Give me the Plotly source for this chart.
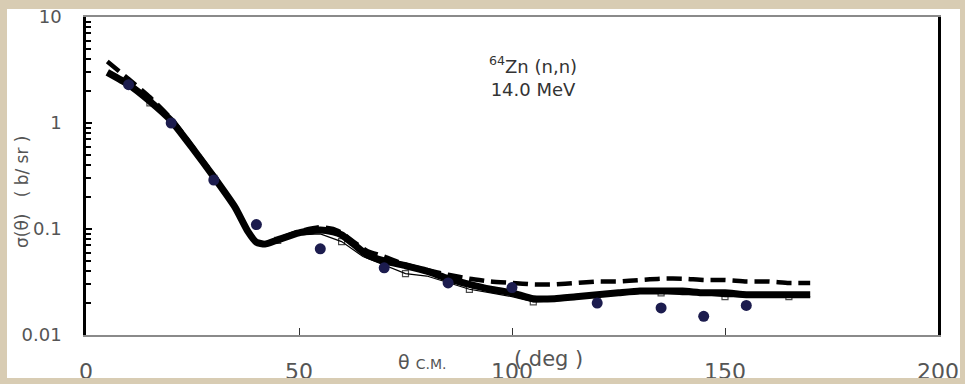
import plotly.graph_objects as go

# Experimental data (theta C.M. in deg, cross section in b/sr)
exp_theta = [10, 20, 30, 40, 55, 70, 85, 100, 120, 135, 145, 155]
exp_sigma = [2.3, 1.0, 0.29, 0.11, 0.065, 0.043, 0.031, 0.028, 0.020, 0.018, 0.015, 0.019]

# Thick solid calculation
solid_theta = [5, 10, 15, 20, 25, 30, 35, 38, 40, 42, 45, 50, 55, 58, 60, 63, 66, 70, 75, 80,
               85, 90, 95, 100, 105, 110, 115, 120, 125, 130, 135, 140, 145, 150, 155, 160, 165, 170]
solid_sigma = [3.0, 2.3, 1.6, 1.05, 0.58, 0.31, 0.16, 0.095, 0.075, 0.072, 0.079, 0.092, 0.098, 0.094,
               0.088, 0.071, 0.057, 0.050, 0.045, 0.040, 0.034, 0.030, 0.027, 0.025, 0.022, 0.022,
               0.023, 0.024, 0.025, 0.026, 0.026, 0.026, 0.025, 0.025, 0.024, 0.024, 0.024, 0.024]

# Dashed calculation
dash_theta = [5, 10, 15, 20, 25, 30, 35, 38, 40, 42, 45, 50, 55, 58, 60, 63, 66, 70, 75, 80,
              85, 90, 95, 100, 105, 110, 115, 120, 125, 130, 135, 140, 145, 150, 155, 160, 165, 170]
dash_sigma = [3.8, 2.6, 1.75, 1.1, 0.6, 0.32, 0.16, 0.095, 0.076, 0.073, 0.080, 0.095, 0.104, 0.100,
              0.092, 0.075, 0.062, 0.055, 0.046, 0.041, 0.037, 0.034, 0.032, 0.031, 0.030, 0.030,
              0.031, 0.032, 0.032, 0.033, 0.034, 0.034, 0.033, 0.033, 0.032, 0.032, 0.031, 0.031]

# Thin line with open squares (squares every 15 deg)
sq_theta = [5, 10, 15, 20, 25, 30, 35, 40, 45, 50, 55, 60, 65, 70, 75, 80, 85, 90, 95, 100,
            105, 110, 115, 120, 125, 130, 135, 140, 145, 150, 155, 160, 165, 170]
sq_sigma = [2.9, 2.2, 1.55, 1.0, 0.56, 0.30, 0.155, 0.074, 0.078, 0.088, 0.090, 0.076, 0.055,
            0.046, 0.038, 0.036, 0.031, 0.027, 0.025, 0.023, 0.0205, 0.021, 0.022, 0.023, 0.024,
            0.025, 0.025, 0.024, 0.024, 0.023, 0.023, 0.023, 0.023, 0.023]

y_tickvals = [0.01, 0.1, 1, 10]
y_ticktext = ["0.01", "0.1", "1", "10"]
y_minor = [m * d for d in (0.01, 0.1, 1) for m in range(2, 10)]
x_tickvals = [0, 50, 100, 150, 200]
x_ticktext = ["0", "50", "100", "150", "200"]

# plot area in pixels: x 86..938, y 17..335
L, R, T, B = 86, 938, 17, 335
W, H = 965, 384
def px(x):
    return (x - L) / (R - L)
def py(y):
    return 1 - (y - T) / (B - T)

FONT = "DejaVu Sans"
BEIGE = "#d8ccb3"

sq_sizes = [6 if t % 15 == 0 else 0 for t in sq_theta]

fig = go.Figure()
fig.add_trace(go.Scatter(x=sq_theta, y=sq_sigma, mode="lines+markers",
                         line=dict(color="black", width=1.2),
                         marker=dict(symbol="square-open", size=sq_sizes, color="black",
                                     line=dict(width=1.2)),
                         showlegend=False))
fig.add_trace(go.Scatter(x=dash_theta, y=dash_sigma, mode="lines",
                         line=dict(color="black", width=4.5, dash="15px,7px", shape="spline", smoothing=0.5),
                         showlegend=False))
fig.add_trace(go.Scatter(x=solid_theta, y=solid_sigma, mode="lines",
                         line=dict(color="black", width=7, shape="spline", smoothing=0.5),
                         showlegend=False))
fig.add_trace(go.Scatter(x=exp_theta, y=exp_sigma, mode="markers",
                         marker=dict(symbol="circle", size=11, color="#1c1c4e"),
                         showlegend=False))

fig.update_layout(
    width=W, height=H,
    margin=dict(l=L, r=W - R, t=T, b=H - B, autoexpand=False),
    paper_bgcolor=BEIGE,
    plot_bgcolor="white",
    font=dict(family=FONT, color="#555555"),
    xaxis=dict(range=[0, 200], tickmode="array", tickvals=x_tickvals, ticktext=x_ticktext,
               automargin=False,
               showgrid=False, zeroline=False, showline=True, linecolor="#8a8a8a",
               linewidth=2, mirror=True, ticks="inside", ticklen=7, tickcolor="#333333",
               tickwidth=1, tickfont=dict(size=22, color="#555555", family=FONT),
               ticklabelstandoff=16),
    yaxis=dict(type="log", range=[-2, 1], tickmode="array", tickvals=y_tickvals, ticktext=y_ticktext,
               automargin=False,
               showgrid=False, zeroline=False, showline=True, linecolor="black",
               linewidth=2.5, mirror=True, ticks="inside", ticklen=6, tickcolor="black",
               tickwidth=2, tickfont=dict(size=18, color="#555555", family=FONT),
               ticklabelstandoff=18,
               minor=dict(tickmode="array", tickvals=y_minor, ticks="inside", ticklen=5,
                          tickcolor="black", tickwidth=2, showgrid=False)),
    shapes=[
        dict(type="rect", xref="paper", yref="paper", x0=px(7), x1=px(960), y0=py(378), y1=py(9),
             fillcolor="white", line=dict(width=0), layer="below"),
        dict(type="rect", xref="paper", yref="paper", x0=px(0), x1=px(965), y0=py(384), y1=py(378),
             fillcolor=BEIGE, line=dict(width=0), layer="above"),
    ],
    annotations=[
        dict(xref="paper", yref="paper", x=px(533), y=py(77), xanchor="center", yanchor="middle",
             showarrow=False, text="<sup>64</sup>Zn (n,n)<br>14.0 MeV", align="center",
             font=dict(size=18, color="#333333", family=FONT)),
        dict(xref="paper", yref="paper", x=px(22), y=py(192), xanchor="center", yanchor="middle",
             showarrow=False, textangle=-90,
             text="σ(θ)   ( b/ sr )", font=dict(size=17, color="#555555", family=FONT)),
        dict(xref="paper", yref="paper", x=px(422), y=py(362), xanchor="center", yanchor="middle",
             showarrow=False, text="θ <span style='font-size:14px'>C.M.</span>",
             font=dict(size=19, color="#555555", family=FONT)),
        dict(xref="paper", yref="paper", x=px(548), y=py(359), xanchor="center", yanchor="middle",
             showarrow=False, text="( deg )", font=dict(size=21, color="#555555", family=FONT)),
    ],
)

fig.write_html("out.html")
